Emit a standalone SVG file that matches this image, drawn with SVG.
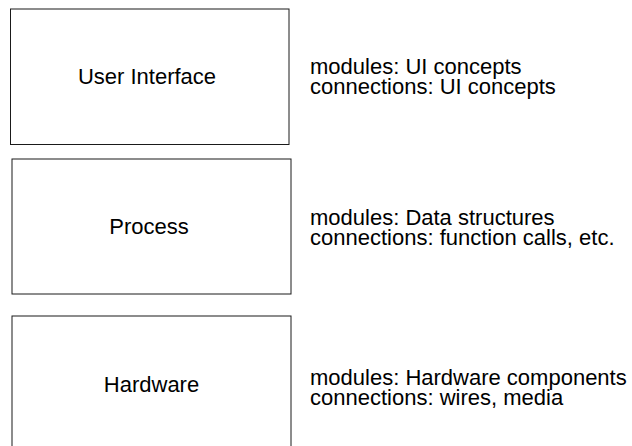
<svg xmlns="http://www.w3.org/2000/svg" width="632" height="446" viewBox="0 0 632 446">
  <style>
    .layer { fill: #ffffff; stroke: #1a1a1a; stroke-width: 1; }
    .label { font-family: "Liberation Sans", Arial, Helvetica, sans-serif; font-size: 22px; fill: #000000; }
    .title { text-anchor: middle; }
  </style>
  <rect x="0" y="0" width="632" height="446" fill="#ffffff"/>

  <!-- Layer: user interface -->
  <g id="user-interface">
    <rect class="layer" x="10.5" y="9" width="278.5" height="135.5"/>
    <text class="label title" x="147" y="83.5">User Interface</text>
    <text class="label" x="310" y="74">modules: UI concepts</text>
    <text class="label" x="310" y="94">connections: UI concepts</text>
  </g>

  <!-- Layer: process -->
  <g id="process">
    <rect class="layer" x="12" y="159" width="279" height="135"/>
    <text class="label title" x="149" y="233.5">Process</text>
    <text class="label" x="310" y="225">modules: Data structures</text>
    <text class="label" x="310" y="245">connections: function calls, etc.</text>
  </g>

  <!-- Layer: hardware (box runs past the bottom edge) -->
  <g id="hardware">
    <rect class="layer" x="12" y="316" width="279" height="140"/>
    <text class="label title" x="151.5" y="391.5">Hardware</text>
    <text class="label" x="310" y="384.5">modules: Hardware components</text>
    <text class="label" x="310" y="404.5">connections: wires, media</text>
  </g>

  <g id="connectors"/>
</svg>
